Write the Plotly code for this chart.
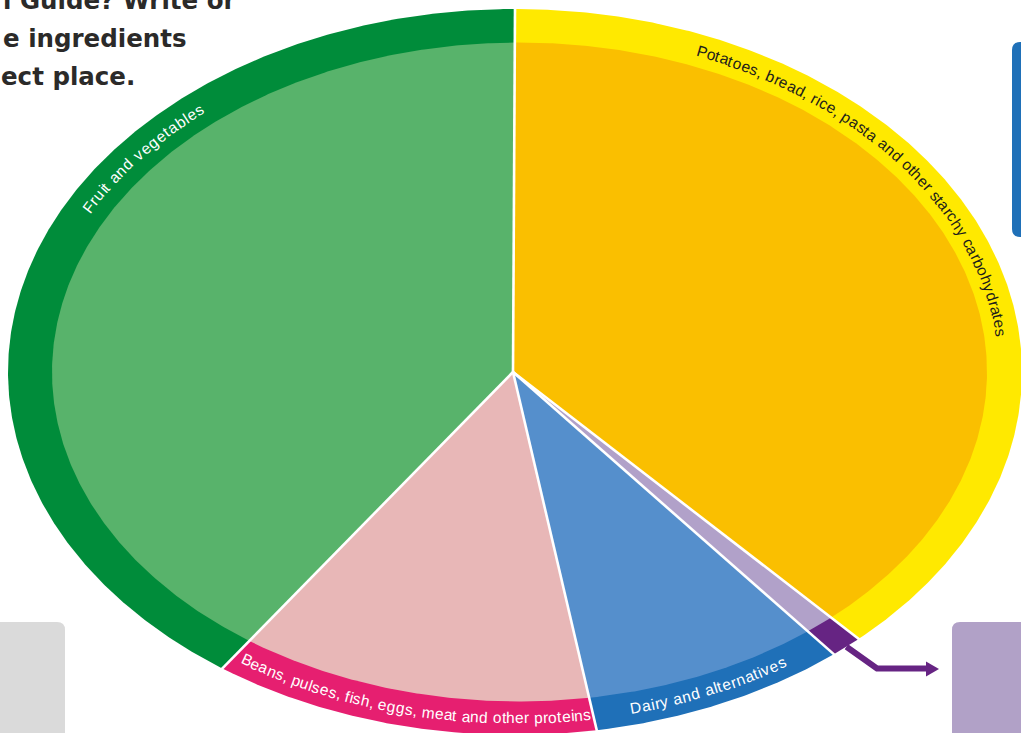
import numpy as np
import plotly.graph_objects as go

# ---------------- data ----------------
categories = [
    "Potatoes, bread, rice, pasta and other starchy carbohydrates",
    "Oil and spreads",
    "Dairy and alternatives",
    "Beans, pulses, fish, eggs, meat and other proteins",
    "Fruit and vegetables",
]
values = [37, 1, 8, 12, 39]
inner_colors = ["#fabf00", "#b1a1c9", "#558fcc", "#e8b7b7", "#58b36b"]
ring_colors = ["#ffe900", "#662483", "#1f70b8", "#e61f70", "#008c3a"]
label_colors = ["#1d1d1b", None, "#ffffff", "#ffffff", "#ffffff"]
intro_lines = ["l Guide? Write or", "e ingredients", "ect place."]

# ---------------- layout geometry (pixels) ----------------
W, H = 1021, 733
PC = np.array([513.0, 372.0])            # pie centre
OUTER = (515.0, 372.0, 507.0, 363.0)     # cx, cy, rx, ry
INNER = (519.5, 372.0, 467.5, 329.5)
MID = (517.0, 372.0, 487.0, 346.0)
# label path: (first char angle, last char angle) in degrees clockwise from top
label_span = {0: (22.3, 83.4), 2: (165.9, 147.1), 3: (213.7, 171.7), 4: (298.4, 319.3)}
LABEL_FONT = 15.5


def ell_pt(e, t):
    cx, cy, rx, ry = e
    r = np.radians(t)
    return cx + rx * np.sin(r), cy - ry * np.cos(r)


def ray_hit(e, t, scale=1.0):
    ox_, oy_ = ell_pt(OUTER, t)
    dx, dy = ox_ - PC[0], oy_ - PC[1]
    cx, cy, rx, ry = e
    ox, oy = PC[0] - cx, PC[1] - cy
    A = (dx / rx) ** 2 + (dy / ry) ** 2
    B = 2 * (ox * dx / rx ** 2 + oy * dy / ry ** 2)
    C = (ox / rx) ** 2 + (oy / ry) ** 2 - 1
    lam = (-B + np.sqrt(B * B - 4 * A * C)) / (2 * A) * scale
    return PC[0] + lam * dx, PC[1] + lam * dy


total = float(sum(values))
cum = np.concatenate([[0.0], np.cumsum(values)]) / total * 360.0

fig = go.Figure()


def wedge(e, t0, t1, color, name):
    ts = np.linspace(t0, t1, max(8, int((t1 - t0) * 3)))
    ax, ay = ray_hit(e, ts)
    xs = np.concatenate([[PC[0]], ax, [PC[0]]])
    ys = np.concatenate([[PC[1]], ay, [PC[1]]])
    fig.add_trace(go.Scatter(x=xs, y=ys, mode="lines", fill="toself",
                             fillcolor=color, line=dict(width=0, color=color),
                             hoverinfo="text", text=name, showlegend=False))


for i, cat in enumerate(categories):
    wedge(OUTER, cum[i], cum[i + 1], ring_colors[i], cat)
for i, cat in enumerate(categories):
    wedge(INNER, cum[i], cum[i + 1], inner_colors[i], cat)

# white separators
sx, sy = [], []
for t in cum[:-1]:
    ex, ey = ray_hit(OUTER, t, scale=1.02)
    sx += [PC[0], float(ex), None]
    sy += [PC[1], float(ey), None]
fig.add_trace(go.Scatter(x=sx, y=sy, mode="lines", line=dict(color="white", width=2.6),
                         hoverinfo="skip", showlegend=False))

# ---------------- curved labels ----------------
CW = {' ': 278, ',': 278, '.': 278, 'a': 556, 'b': 556, 'c': 500, 'd': 556, 'e': 556,
      'f': 278, 'g': 556, 'h': 556, 'i': 222, 'j': 222, 'k': 500, 'l': 222, 'm': 833,
      'n': 556, 'o': 556, 'p': 556, 'q': 556, 'r': 333, 's': 500, 't': 278, 'u': 556,
      'v': 500, 'w': 722, 'x': 500, 'y': 500, 'z': 500, 'F': 611, 'P': 667, 'B': 667,
      'D': 722}
tt = np.linspace(0, 360, 7201)
mx, my = ell_pt(MID, tt)
S = np.concatenate([[0.0], np.cumsum(np.hypot(np.diff(mx), np.diff(my)))])

annotations = []
for i, (t_first, t_last) in label_span.items():
    text = categories[i]
    w = np.array([CW.get(c, 556) for c in text], float)
    c = np.concatenate([[0.0], np.cumsum((w[:-1] + w[1:]) / 2)])
    s0, s1 = np.interp(t_first, tt, S), np.interp(t_last, tt, S)
    sgn = 1.0 if s1 > s0 else -1.0
    svals = s0 + (s1 - s0) * c / c[-1]
    tvals = np.interp(svals, S, tt)
    px, py = ell_pt(MID, tvals)
    _, _, rx, ry = MID
    for ch, t, x, y in zip(text, tvals, px, py):
        if ch == ' ':
            continue
        r = np.radians(t)
        ang = np.degrees(np.arctan2(sgn * ry * np.sin(r), sgn * rx * np.cos(r)))
        annotations.append(dict(x=float(x), y=float(y), xref="x", yref="y", text=ch,
                                showarrow=False, xanchor="center", yanchor="middle",
                                textangle=float(ang),
                                font=dict(family="Liberation Sans, Arial", size=LABEL_FONT,
                                          color=label_colors[i])))

# intro text (clipped at the left edge, as in the source page)
for line, (xr, yc) in zip(intro_lines, [(239, 0), (189, 38), (137, 76)]):
    annotations.append(dict(x=xr, y=yc, xref="x", yref="y", text=line, showarrow=False,
                            xanchor="right", yanchor="middle",
                            font=dict(family="DejaVu Sans", size=24.5, color="#2b2a29",
                                      weight=700)))

# ---------------- decorations ----------------
t_oil = (cum[1] + cum[2]) / 2
ax0, ay0 = ell_pt(OUTER, t_oil)
shapes = [
    dict(type="path", xref="x", yref="y", line=dict(width=0), fillcolor="#1f70b8",
         path="M 1020,42 L 1040,42 L 1040,237 L 1020,237 Q 1012,237 1012,229 L 1012,50 Q 1012,42 1020,42 Z"),
    dict(type="path", xref="x", yref="y", line=dict(width=0), fillcolor="#dadada",
         path="M -20,622 L 57,622 Q 65,622 65,630 L 65,760 L -20,760 Z"),
    dict(type="path", xref="x", yref="y", line=dict(width=0), fillcolor="#b1a1c7",
         path="M 960,622 L 1040,622 L 1040,760 L 952,760 L 952,630 Q 952,622 960,622 Z"),
    dict(type="path", xref="x", yref="y", line=dict(width=6, color="#662483"),
         path=f"M {ax0:.1f},{ay0:.1f} L 877,668.5 L 928,668.5"),
    dict(type="path", xref="x", yref="y", line=dict(width=0), fillcolor="#662483",
         path="M 926,661.5 L 939,669 L 926,676.5 Z"),
]

fig.update_layout(
    width=W, height=H, margin=dict(l=0, r=0, t=0, b=0),
    paper_bgcolor="white", plot_bgcolor="white",
    xaxis=dict(range=[0, W], visible=False, fixedrange=True),
    yaxis=dict(range=[H, 0], visible=False, fixedrange=True),
    annotations=annotations, shapes=shapes, showlegend=False,
)

fig.write_html("out.html", config={"displayModeBar": False},
               post_script="document.body.style.margin='0';document.body.style.overflow='hidden';")
